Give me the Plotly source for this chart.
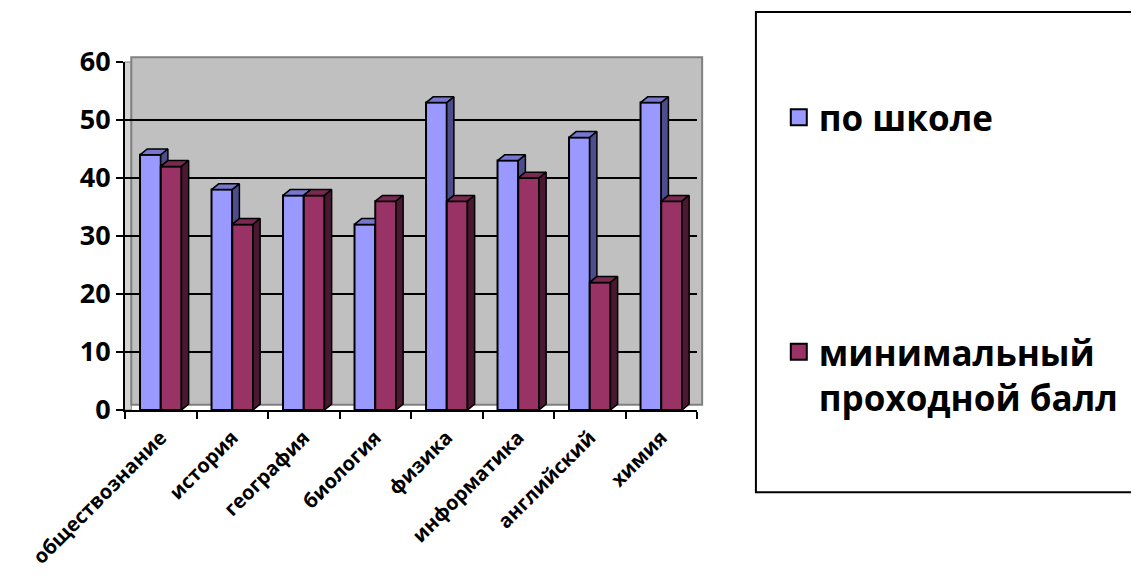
import plotly.graph_objects as go

categories = ["обществознание", "история", "география", "биология",
              "физика", "информатика", "английский", "химия"]
school = [44, 38, 37, 32, 53, 43, 47, 53]
minimum = [42, 32, 37, 36, 36, 40, 22, 36]
series_names = ["по школе", "минимальный<br>проходной балл"]
y_ticks = [0, 10, 20, 30, 40, 50, 60]

BLUE, BLUE_SIDE, BLUE_TOP = "#9999FF", "#4D4D8C", "#7777D0"
RED, RED_SIDE, RED_TOP = "#993366", "#4A1830", "#7A2952"
W = 0.29      # bar width (category units)
DX = 0.10     # depth offset x
DY = 1.0      # depth offset y (value units)
FONT = "Open Sans"

xs = list(range(len(categories)))
fig = go.Figure()

fig.add_trace(go.Bar(x=xs, y=school, width=W, offset=-W, name=series_names[0],
                     marker=dict(color=BLUE, line=dict(color="black", width=2)),
                     legendgroup="a", showlegend=False))
fig.add_trace(go.Bar(x=xs, y=minimum, width=W, offset=0, name=series_names[1],
                     marker=dict(color=RED, line=dict(color="black", width=2)),
                     legendgroup="b", showlegend=False))

def poly(px, py, color):
    fig.add_trace(go.Scatter(x=px + [px[0]], y=py + [py[0]], mode="lines",
                             fill="toself", fillcolor=color,
                             line=dict(color="black", width=1.5),
                             showlegend=False, hoverinfo="skip"))

for i, (b, m) in enumerate(zip(school, minimum)):
    if b >= m:
        poly([i - W, i, i + DX, i - W + DX], [b, b, b + DY, b + DY], BLUE_TOP)
        poly([i, i, i + DX, i + DX], [m, b, b + DY, m + DY], BLUE_SIDE)
    else:
        poly([i - W, i, i, i - W + DX], [b, b, b + DY, b + DY], BLUE_TOP)
    poly([i, i + W, i + W + DX, i + DX], [m, m, m + DY, m + DY], RED_TOP)
    poly([i + W, i + W, i + W + DX, i + W + DX], [0, m, m + DY, DY], RED_SIDE)

# legend entries with larger square swatches
for name, color, grp in [(series_names[0], BLUE, "a"), (series_names[1], RED, "b")]:
    fig.add_trace(go.Scatter(x=[None], y=[None], mode="markers", name=name,
                             legendgroup=grp,
                             marker=dict(symbol="square", size=30, color=color,
                                         line=dict(color="black", width=2))))

fig.update_layout(
    width=1131, height=571,
    margin=dict(l=117, r=442, t=54, b=169, autoexpand=False),
    paper_bgcolor="white", plot_bgcolor="rgba(0,0,0,0)",
    barmode="overlay",
    font=dict(family=FONT, color="black"),
    showlegend=True,
    legend=dict(x=1.143, y=0.925, xanchor="left", yanchor="top",
                font=dict(family=FONT, size=35, color="black", weight="bold"),
                tracegroupgap=186, valign="top", bgcolor="rgba(0,0,0,0)",
                itemsizing="trace"),
    shapes=[
        dict(type="rect", xref="paper", yref="paper", layer="below",
             x0=-0.001, x1=0.011, y0=0.0, y1=1.0,
             line=dict(color="#808080", width=1), fillcolor="#D4D4D4"),
        dict(type="rect", xref="paper", yref="paper", layer="below",
             x0=0.011, x1=1.009, y0=0.015, y1=1.014,
             line=dict(color="#808080", width=2), fillcolor="#C0C0C0"),
        dict(type="rect", xref="paper", yref="paper",
             x0=1.103, x1=1.8, y0=-0.236, y1=1.144,
             line=dict(color="black", width=2), fillcolor="rgba(0,0,0,0)"),
    ],
)
fig.update_xaxes(range=[-0.5, 7.5], tickvals=xs, ticktext=categories, tickangle=-45,
                 ticks="", showgrid=False, zeroline=False, automargin=False,
                 showline=True, linecolor="black", linewidth=2,
                 ticklabelstandoff=6,
                 tickfont=dict(family=FONT, size=20, color="black", weight="bold"),
                 minor=dict(tickvals=[v - 0.5 for v in range(len(categories) + 1)],
                            ticks="outside", ticklen=7, tickwidth=2,
                            tickcolor="black", showgrid=False))
fig.update_yaxes(range=[0, 60], tickvals=y_ticks, ticks="outside", ticklen=7,
                 tickwidth=2, tickcolor="black", automargin=False,
                 showgrid=True, gridcolor="black", gridwidth=2,
                 zeroline=False, showline=True, linecolor="black", linewidth=2,
                 tickfont=dict(family=FONT, size=27, color="black", weight="bold"))

fig.write_html("out.html")
